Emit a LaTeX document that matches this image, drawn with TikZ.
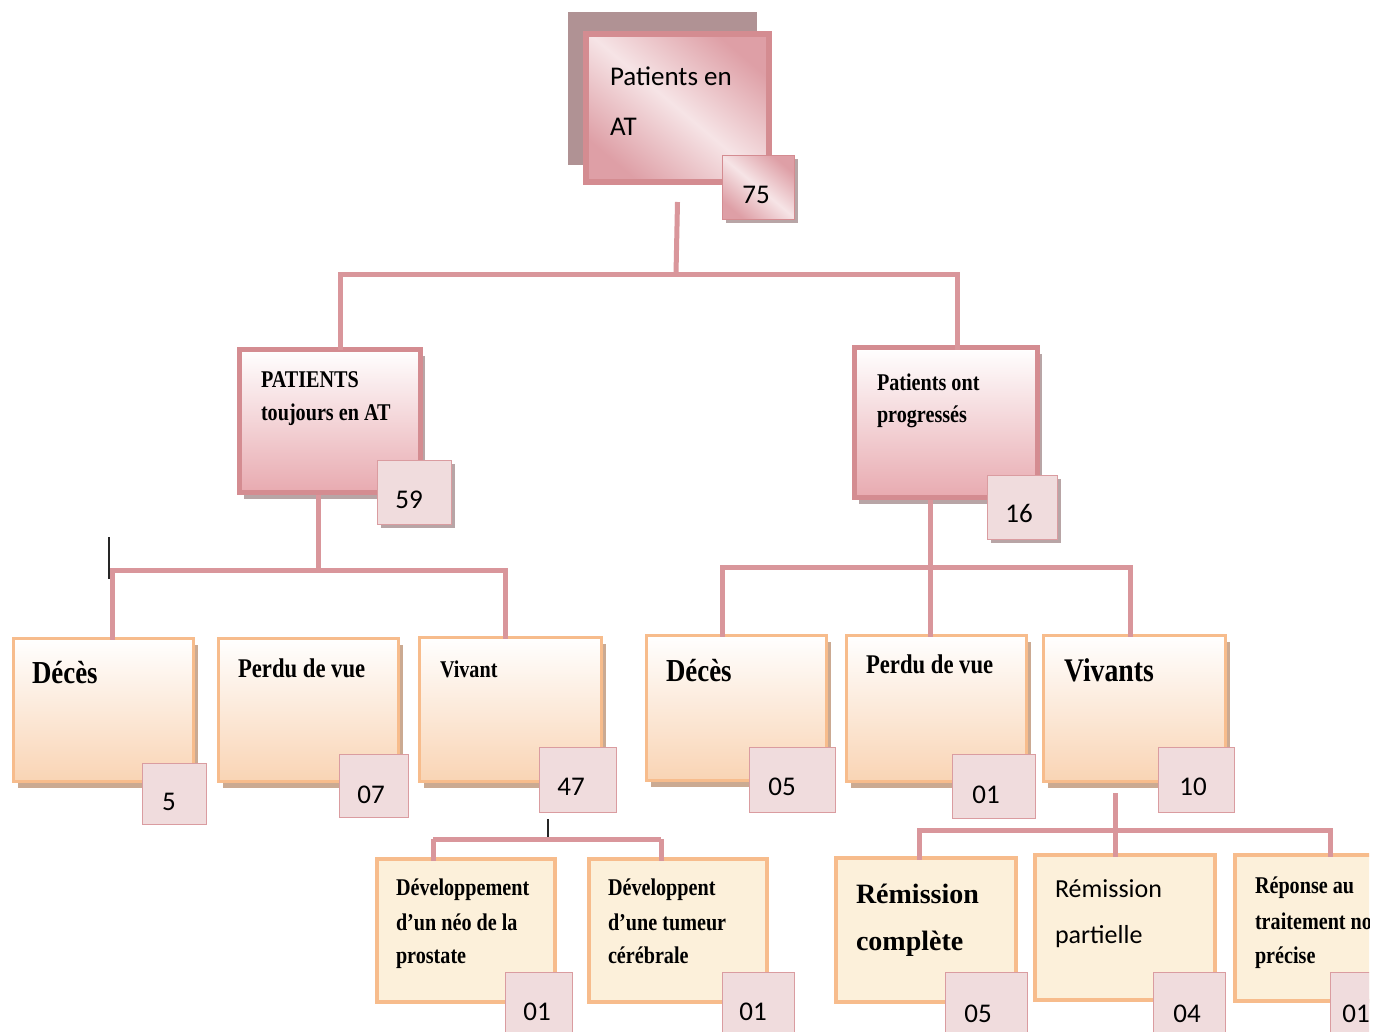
\documentclass[tikz,border=0pt]{standalone}
\usepackage{fontspec}
\setmainfont{Liberation Serif}
\newfontfamily\tnr[FakeStretch=0.84]{Liberation Serif}
\newfontfamily\calf{Carlito}
\usetikzlibrary{shadows}
\newcommand\myfs[1]{\fontsize{#1}{#1}\selectfont}
\definecolor{pk}{HTML}{D9969B}
\definecolor{pkb}{HTML}{D48C91}
\definecolor{pkl}{HTML}{E8AAB0}
\definecolor{pkd}{HTML}{DE9FA6}
\definecolor{pkm}{HTML}{F6E4E6}
\definecolor{org}{HTML}{F7BC8C}
\definecolor{peach}{HTML}{F9D4B4}
\definecolor{cream}{HTML}{FCF0DA}
\definecolor{bdg}{HTML}{F0DCDD}
\definecolor{bdgb}{HTML}{DA9CA0}
\definecolor{shg}{HTML}{B8A5A6}
\definecolor{sho}{HTML}{CBAA92}
\definecolor{mauve}{HTML}{B09294}
\tikzset{
  conn/.style={draw=pk, line width=5pt},
  boxbase/.style={rectangle, anchor=north west, inner sep=0pt, outer sep=0pt},
  rootbox/.style={boxbase, draw=pkb, line width=6pt, top color=pkd, bottom color=pkd, middle color=pkm, shading angle=-40},
  rootsh/.style={boxbase, fill=mauve},
  l2box/.style={boxbase, draw=pkb, line width=5pt, top color=white, bottom color=pkl,
    drop shadow={shadow xshift=4pt, shadow yshift=-6pt, fill=shg, opacity=1}},
  l3box/.style={boxbase, draw=org, line width=3.5pt, top color=white, bottom color=peach,
    drop shadow={shadow xshift=4pt, shadow yshift=-6pt, fill=sho, opacity=1}},
  l4box/.style={boxbase, draw=org, line width=4pt, fill=cream},
  badge/.style={boxbase, draw=bdgb, line width=1.5pt, fill=bdg},
  badgesh/.style={badge, drop shadow={shadow xshift=3pt, shadow yshift=-3pt, fill=shg, opacity=1}},
  rootbadge/.style={boxbase, draw=pkb, line width=1.5pt, top color=pkd, bottom color=pkd, middle color=pkm, shading angle=-40,
    drop shadow={shadow xshift=3pt, shadow yshift=-3pt, fill=shg, opacity=1}},
  lbl/.style={anchor=base west, inner sep=0pt, outer sep=0pt, text=black},
  num/.style={anchor=base, inner sep=0pt, outer sep=0pt, text=black, font=\calf\myfs{27}},
  tsm/.style={lbl, font=\tnr\bfseries\myfs{24}},
  tpv/.style={lbl, font=\tnr\bfseries\myfs{27}},
  tbig/.style={lbl, font=\tnr\bfseries\myfs{32}},
  tcal/.style={lbl, font=\calf\myfs{27}},
  tcal2/.style={lbl, font=\calf\myfs{26}},
  tcam/.style={lbl, font=\bfseries\myfs{28}},
  cursor/.style={draw=black!85, line width=1.2pt}
}
\begin{document}
\begin{tikzpicture}[x=1pt,y=-1pt]
\useasboundingbox (0,0) rectangle (1384,1031);
\fill[white] (0,0) rectangle (1384,1031);
\begin{scope}
\clip (0,0) rectangle (1369,1031);

% ---------- boxes ----------
\node[rootsh, minimum width=189pt, minimum height=153pt] (rootshadow) at (568,12) {};
\node[rootbox, minimum width=183pt, minimum height=148pt] (root) at (586,34) {};
\node[rootbadge, minimum width=72pt, minimum height=64pt] (broot) at (722.5,155.5) {};

\node[l2box, minimum width=181pt, minimum height=143pt] (l2a) at (239.5,349.5) {};
\node[l2box, minimum width=183pt, minimum height=150pt] (l2b) at (854.5,347.5) {};
\node[badgesh, minimum width=74pt, minimum height=64pt] (b59) at (377.5,460.5) {};
\node[badgesh, minimum width=70pt, minimum height=64pt] (b16) at (987.5,475.5) {};

\node[l3box, minimum width=180pt, minimum height=143pt] (d1) at (13.5,638.5) {};
\node[l3box, minimum width=180pt, minimum height=143pt] (p1) at (218.5,638.5) {};
\node[l3box, minimum width=182pt, minimum height=144pt] (v1) at (419.5,637.5) {};
\node[l3box, minimum width=180pt, minimum height=145pt] (d2) at (646.5,635.5) {};
\node[l3box, minimum width=180pt, minimum height=146pt] (p2) at (846.5,635.5) {};
\node[l3box, minimum width=182pt, minimum height=146pt] (v2) at (1043.5,635.5) {};

\node[badge, minimum width=64pt, minimum height=61pt] (b5) at (142.5,763.5) {};
\node[badge, minimum width=69pt, minimum height=63pt] (b07) at (339.5,754.5) {};
\node[badge, minimum width=77pt, minimum height=65pt] (b47) at (539.5,747.5) {};
\node[badge, minimum width=86pt, minimum height=65pt] (b05a) at (749.5,747.5) {};
\node[badge, minimum width=83pt, minimum height=64pt] (b01a) at (952.5,754.5) {};
\node[badge, minimum width=76pt, minimum height=65pt] (b10) at (1158.5,747.5) {};

\node[l4box, minimum width=178pt, minimum height=143pt] (dv1) at (377,859) {};
\node[l4box, minimum width=178pt, minimum height=143pt] (dv2) at (589,859) {};
\node[l4box, minimum width=180pt, minimum height=144pt] (r1) at (836,858) {};
\node[l4box, minimum width=180pt, minimum height=145pt] (r2) at (1035,855) {};
\node[l4box, minimum width=180pt, minimum height=146pt] (r3) at (1235,855) {};

\node[badge, minimum width=67pt, minimum height=70pt] (b01b) at (505.5,972.5) {};
\node[badge, minimum width=72pt, minimum height=70pt] (b01c) at (722.5,972.5) {};
\node[badge, minimum width=82pt, minimum height=70pt] (b05b) at (945.5,972.5) {};
\node[badge, minimum width=72pt, minimum height=70pt] (b04) at (1153.5,972.5) {};
\node[badge, minimum width=72pt, minimum height=70pt] (b01d) at (1330.5,972.5) {};

\coordinate (bus1) at (676,274);
\coordinate (bus2) at (318,570);
\coordinate (bus3) at (930,567);
\coordinate (bus4) at (548,839);
\coordinate (bus5) at (1115,830);
\coordinate (tick1) at (548,819);
\coordinate (curA) at (109,537);
\coordinate (curB) at (109,579);

% ---------- connectors (only in the gaps between boxes) ----------
\draw[conn] (root.south |- 0,202) -- (bus1);
\draw[conn] (bus1) -| (l2a.north -| 340,0);
\draw[conn] (bus1) -| ([yshift=-2.5pt]l2b.north -| 957,0);

\draw[conn] ([yshift=-2.5pt]l2a.south -| bus2) -- (bus2);
\draw[conn] (bus2) -| ([yshift=-1.75pt]d1.north -| 112,0);
\draw[conn] (bus2) -| ([yshift=-1.75pt]v1.north -| 505,0);
\draw[conn] ([yshift=-2.5pt]l2b.south -| bus3) -- ([yshift=-1.75pt]p2.north -| bus3);
\draw[conn] (bus3) -| ([yshift=-1.75pt]d2.north -| 722,0);
\draw[conn] (bus3) -| ([yshift=-1.75pt]v2.north -| 1130,0);

\draw[cursor] (tick1) -- (bus4);
\draw[conn] (bus4 -| 433,0) -- (bus4 -| 661,0);
\draw[conn] (bus4 -| 433,0) -- ([yshift=-2pt]dv1.north -| 433,0);
\draw[conn] (bus4 -| 661,0) -- ([yshift=-2pt]dv2.north -| 661,0);

\draw[conn] (bus5 |- 0,793) -- ([yshift=-2pt]r2.north -| bus5);
\draw[conn] (bus5) -| ([yshift=-2pt]r1.north -| 919,0);
\draw[conn] (bus5) -| ([yshift=-2pt]r3.north -| 1330,0);

\draw[cursor] (curA) -- (curB);

% ---------- texts ----------
\node[tcal] (t0a) at (610,85) {Patients en};
\node[tcal] (t0b) at (610,135) {AT};
\node[num] (n75) at (756,203) {75};

\node[tsm] (t1a) at (261,387) {PATIENTS};
\node[tsm] (t1b) at (261,420) {toujours en AT};
\node[num] (n59) at (409,508) {59};

\node[tsm] (t2a) at (877,390) {Patients ont};
\node[tsm] (t2b) at (877,422) {progressés};
\node[num] (n16) at (1019,522) {16};

\node[tbig] (t3) at (32,683) {Décès};
\node[tpv] (t4) at (238,677) {Perdu de vue};
\node[tsm] (t5) at (440,677) {Vivant};
\node[tbig] (t6) at (666,681) {Décès};
\node[tpv] (t7) at (866,673) {Perdu de vue};
\node[tbig, font=\tnr\bfseries\myfs{33}] (t8) at (1064,681) {Vivants};

\node[num] (n5) at (169,810) {5};
\node[num] (n07) at (371,803) {07};
\node[num] (n47) at (571,795) {47};
\node[num] (n05a) at (782,795) {05};
\node[num] (n01a) at (986,803) {01};
\node[num] (n10) at (1193,795) {10};

\node[tsm] (t9a) at (396,895) {Développement};
\node[tsm] (t9b) at (396,930) {d’un néo de la};
\node[tsm] (t9c) at (396,963) {prostate};
\node[tsm] (t10a) at (608,895) {Développent};
\node[tsm] (t10b) at (608,930) {d’une tumeur};
\node[tsm] (t10c) at (608,963) {cérébrale};

\node[tcam] (t11a) at (856,903) {Rémission};
\node[tcam] (t11b) at (856,950) {complète};
\node[tcal2] (t12a) at (1055,897) {Rémission};
\node[tcal2] (t12b) at (1055,943) {partielle};
\node[tsm] (t13a) at (1255,893) {Réponse au};
\node[tsm] (t13b) at (1255,929) {traitement non};
\node[tsm] (t13c) at (1255,963) {précise};
\node[num] (n01d) at (1356,1022) {01};

\node[num] (n01b) at (537,1020) {01};
\node[num] (n01c) at (753,1020) {01};
\node[num] (n05b) at (978,1022) {05};
\node[num] (n04) at (1187,1022) {04};
\end{scope}
\end{tikzpicture}
\end{document}
